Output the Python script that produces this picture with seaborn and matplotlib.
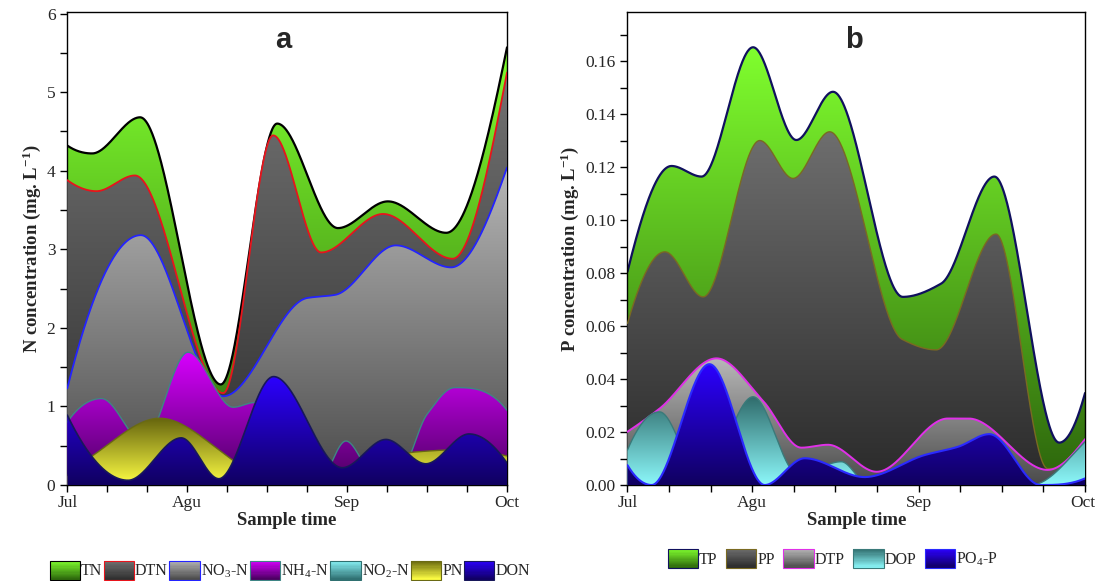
import numpy as np
import matplotlib
matplotlib.use('Agg')
import matplotlib.pyplot as plt
import matplotlib.transforms as mtransforms
import seaborn as sns
from matplotlib.colors import LinearSegmentedColormap
from matplotlib.legend_handler import HandlerBase
from matplotlib.patches import Patch, Rectangle
from matplotlib.ticker import FixedLocator, MultipleLocator, FormatStrFormatter

# sample positions are in x-tick units (0 = Jul ... 11 = Oct)
month_ticks = [0, 3, 7, 11]
month_labels = ['Jul', 'Agu', 'Sep', 'Oct']

# ---- panel a: nitrogen (mg/L) ----
tn_t = [0, 0.62, 1.82, 3.84, 5.25, 6.77, 8.02, 9.48, 11]
tn = [4.32, 4.22, 4.68, 1.28, 4.60, 3.27, 3.61, 3.21, 5.57]

dtn_t = [0, 0.73, 1.69, 3.9, 5.15, 6.35, 7.9, 9.64, 11]
dtn = [3.88, 3.74, 3.94, 1.17, 4.45, 2.96, 3.45, 2.88, 5.25]

no3_t = [0, 1.84, 3.9, 6.0, 6.7, 8.22, 9.6, 11]
no3 = [1.23, 3.18, 1.13, 2.38, 2.42, 3.05, 2.77, 4.04]

nh4_t = [0, 0.86, 1.9, 3.02, 4.15, 4.69, 5.6, 6.3, 6.97, 7.7, 8.3, 9.0, 9.69, 11]
nh4 = [0.80, 1.10, 0.55, 1.69, 0.99, 1.05, 0.02, 0.05, 0.56, 0.12, 0.15, 0.90, 1.24, 0.95]

no2_t = [0, 2.5, 4.9, 6.5, 7.96, 9.5, 11]
no2 = [0.03, 0.02, 0.03, 0.02, 0.03, 0.02, 0.02]

pn_t = [0, 0.65, 2.31, 4.19, 5.0, 6.9, 8.7, 9.9, 11]
pn = [0.12, 0.38, 0.85, 0.30, 0.0, 0.1, 0.42, 0.45, 0.37]

don_t = [0, 1.52, 2.85, 3.79, 5.16, 6.88, 7.97, 8.97, 10.05, 11]
don = [0.89, 0.06, 0.60, 0.08, 1.38, 0.22, 0.58, 0.27, 0.65, 0.28]

# ---- panel b: phosphorus (mg/L) ----
tp_t = [0, 1.06, 1.78, 3.02, 4.06, 4.94, 6.62, 7.54, 8.82, 10.38, 11]
tp = [0.0805, 0.1204, 0.1164, 0.1652, 0.1302, 0.1484, 0.0710, 0.0760, 0.1164, 0.0160, 0.0347]

pp_t = [0, 0.9, 1.82, 3.18, 3.98, 4.86, 6.6, 7.42, 8.86, 10.1, 11]
pp = [0.061, 0.088, 0.071, 0.130, 0.1157, 0.1333, 0.055, 0.051, 0.0947, 0.0062, 0.0168]

dtp_t = [0, 0.77, 2.14, 3.26, 4.18, 4.82, 5.99, 7.7, 8.2, 10.1, 11]
dtp = [0.0201, 0.0288, 0.0478, 0.0317, 0.0141, 0.0152, 0.0050, 0.0251, 0.0251, 0.0057, 0.0173]

dop_t = [0, 0.77, 1.8, 3.02, 4.1, 5.14, 5.8, 9.7, 11]
dop = [0.0132, 0.0276, 0.002, 0.0333, 0.004, 0.0088, 0.0, 0.0, 0.0163]

po4_t = [0, 0.58, 1.97, 3.3, 4.26, 5.7, 7.14, 7.94, 8.7, 9.93, 11]
po4 = [0.0075, 0.0, 0.0456, 0.0, 0.0101, 0.003, 0.0113, 0.0144, 0.0192, 0.0, 0.0025]


def end_slope(h0, h1, m0, m1):
    d = ((2 * h0 + h1) * m0 - h0 * m1) / (h0 + h1)
    if np.sign(d) != np.sign(m0):
        return 0.0
    if np.sign(m0) != np.sign(m1) and abs(d) > 3 * abs(m0):
        return 3 * m0
    return d


def pchip(x, y, xs):
    """Monotone cubic curve through the sample points (used only for drawing)."""
    x = np.asarray(x, float)
    y = np.asarray(y, float)
    h = np.diff(x)
    m = np.diff(y) / h
    n = len(x)
    d = np.zeros(n)
    for k in range(1, n - 1):
        if m[k - 1] * m[k] > 0:
            w1 = 2 * h[k] + h[k - 1]
            w2 = h[k] + 2 * h[k - 1]
            d[k] = (w1 + w2) / (w1 / m[k - 1] + w2 / m[k])
    d[0] = end_slope(h[0], h[1], m[0], m[1])
    d[-1] = end_slope(h[-1], h[-2], m[-1], m[-2])
    i = np.clip(np.searchsorted(x, xs) - 1, 0, n - 2)
    s = (xs - x[i]) / h[i]
    h00 = 2 * s**3 - 3 * s**2 + 1
    h10 = s**3 - 2 * s**2 + s
    h01 = -2 * s**3 + 3 * s**2
    h11 = s**3 - s**2
    return h00 * y[i] + h10 * h[i] * d[i] + h01 * y[i + 1] + h11 * h[i] * d[i + 1]


def draw_area(ax, t, vals, c_bottom, c_top, line_color, lw, z):
    xs = np.linspace(0, 11, 900)
    ys = np.clip(pchip(t, vals, xs), 0, None)
    poly = ax.fill_between(xs, 0, ys, facecolor='none', edgecolor='none', zorder=z)
    cmap = LinearSegmentedColormap.from_list('grad', [c_bottom, c_top])
    grad = np.linspace(0, 1, 256).reshape(-1, 1)
    im = ax.imshow(grad, cmap=cmap, aspect='auto', origin='lower',
                   extent=[0, 11, 0, ys.max()], interpolation='bilinear', zorder=z)
    im.set_clip_path(poly.get_paths()[0], transform=ax.transData)
    sns.lineplot(x=xs, y=ys, ax=ax, color=line_color, linewidth=lw, zorder=z + 0.5,
                 sort=False, estimator=None, legend=False)


class GradientHandler(HandlerBase):
    def __init__(self, c_bottom, c_top, edge):
        super().__init__()
        self.cmap = LinearSegmentedColormap.from_list('leg', [c_bottom, c_top])
        self.edge = edge

    def create_artists(self, legend, orig_handle, xdescent, ydescent, width, height, fontsize, trans):
        out = []
        n = 16
        for k in range(n):
            out.append(Rectangle((-xdescent, -ydescent + height * k / n), width, height / n * 1.05,
                                 facecolor=self.cmap((k + 0.5) / n), edgecolor='none', transform=trans))
        out.append(Rectangle((-xdescent, -ydescent), width, height, fill=False,
                             edgecolor=self.edge, linewidth=0.8, transform=trans))
        return out


def style_axis(ax, ylabel, ymax):
    ax.set_xlim(0, 11)
    ax.set_ylim(0, ymax)
    ax.xaxis.set_major_locator(FixedLocator(month_ticks))
    ax.set_xticklabels(month_labels)
    ax.xaxis.set_minor_locator(FixedLocator(range(12)))
    ax.tick_params(which='both', direction='out', length=5, width=1, color='black',
                   labelsize=12.5, top=False, right=False)
    ax.tick_params(axis='x', pad=2)
    ax.set_xlabel('Sample time', fontsize=13.5, fontweight='bold', labelpad=1)
    ax.set_ylabel(ylabel, fontsize=13.5, fontweight='bold', labelpad=3)
    for sp in ax.spines.values():
        sp.set_color('black')
        sp.set_linewidth(1)


def add_legend(ax, entries, x, y, colspace):
    handles, labels, hmap = [], [], {}
    for label, cb, ct, edge in entries:
        h = Patch(facecolor=ct)
        handles.append(h)
        labels.append(label)
        hmap[h] = GradientHandler(cb, ct, edge)
    ax.legend(handles, labels, handler_map=hmap, loc='center', bbox_to_anchor=(x, y),
              ncol=len(entries), frameon=False, fontsize=11.5, handlelength=1.9,
              handleheight=1.45, handletextpad=0.05, columnspacing=colspace, borderaxespad=0)


sns.set_theme(style='ticks')
plt.rcParams['font.family'] = ['Liberation Serif', 'DejaVu Sans']
plt.rcParams['mathtext.default'] = 'regular'

fig = plt.figure(figsize=(10.96, 5.81), dpi=100)
ax_a = fig.add_axes([0.0614, 0.1652, 0.4012, 0.8141])
ax_b = fig.add_axes([0.5725, 0.1652, 0.4175, 0.8141])

# series: label, sample times, values, bottom colour, top colour, line colour, line width
n_series = [
    ('TN', tn_t, tn, '#2c660c', '#80ff2e', 'black', 1.6),
    ('DTN', dtn_t, dtn, '#2e2e2e', '#727272', '#e8141c', 1.3),
    ('NO$_3$-N', no3_t, no3, '#4a4a4a', '#b6b6b6', '#2323ff', 1.3),
    ('NH$_4$-N', nh4_t, nh4, '#48005e', '#d800ff', '#3f8585', 1.0),
    ('NO$_2$-N', no2_t, no2, '#2e6e70', '#8af4f8', '#2f7070', 1.0),
    ('PN', pn_t, pn, '#ffff44', '#66650e', '#6a6a14', 1.0),
    ('DON', don_t, don, '#100060', '#2c00ff', '#18185a', 1.2),
]
p_series = [
    ('TP', tp_t, tp, '#2c640c', '#80ff2e', '#10105e', 1.6),
    ('PP', pp_t, pp, '#2a2a2a', '#6e6e6e', '#7a6a22', 1.0),
    ('DTP', dtp_t, dtp, '#4a4a4a', '#b8b8b8', '#e030e8', 1.4),
    ('DOP', dop_t, dop, '#8cf8fa', '#2f6b6b', '#3a7a7a', 1.0),
    ('PO$_4$-P', po4_t, po4, '#100060', '#2c00ff', '#2a2aff', 1.5),
]

for k, (label, t, v, cb, ct, lc, lw) in enumerate(n_series):
    draw_area(ax_a, t, v, cb, ct, lc, lw, 2 + 2 * k)
for k, (label, t, v, cb, ct, lc, lw) in enumerate(p_series):
    draw_area(ax_b, t, v, cb, ct, lc, lw, 2 + 2 * k)

style_axis(ax_a, 'N concentration (mg. L$^{-1}$)', 6.02)
ax_a.yaxis.set_major_locator(MultipleLocator(1))
ax_a.yaxis.set_minor_locator(MultipleLocator(0.5))

style_axis(ax_b, 'P concentration (mg. L$^{-1}$)', 0.1785)
ax_b.yaxis.set_major_locator(MultipleLocator(0.02))
ax_b.yaxis.set_minor_locator(MultipleLocator(0.01))
ax_b.yaxis.set_major_formatter(FormatStrFormatter('%.2f'))

# keep the last month label of panel b inside the figure
last = ax_b.get_xticklabels()[-1]
last.set_horizontalalignment('right')
last.set_transform(last.get_transform() + mtransforms.ScaledTranslation(0.1, 0, fig.dpi_scale_trans))

ax_a.text(0.49, 0.94, 'a', transform=ax_a.transAxes, ha='center', va='center',
          fontsize=21, fontweight='bold', family='Liberation Sans', zorder=30)
ax_b.text(0.495, 0.94, 'b', transform=ax_b.transAxes, ha='center', va='center',
          fontsize=21, fontweight='bold', family='Liberation Sans', zorder=30)

add_legend(ax_a, [(s[0], s[3], s[4], s[5]) for s in n_series], 0.506, -0.18, 0.1)
add_legend(ax_b, [(s[0], s[3], s[4], s[5]) for s in p_series], 0.449, -0.155, 0.55)

fig.savefig('out.png', dpi=100)
